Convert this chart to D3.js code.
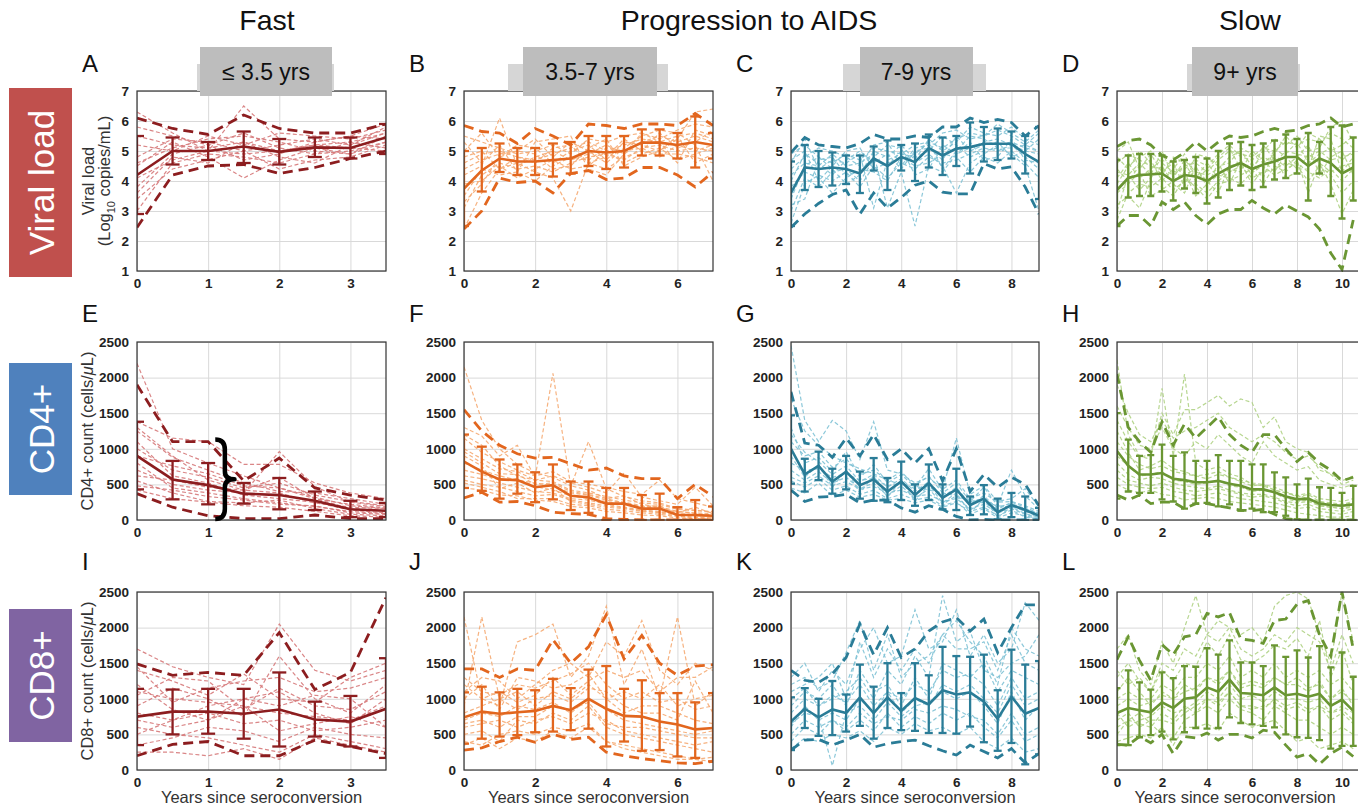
<!DOCTYPE html>
<html>
<head>
<meta charset="utf-8">
<script src="https://cdn.jsdelivr.net/npm/d3@7"></script>
<style>
  body { margin: 0; background: #fff; }
  svg { display: block; }
  text { font-family: "Liberation Sans", Arial, Helvetica, sans-serif; }
</style>
</head>
<body>
<div id="chart"></div>
<script>
// ---- x positions (years since seroconversion) ----
var yearsFast = [0, 0.5, 1, 1.5, 2, 2.5, 3, 3.5];
var yearsMid = [0, 0.5, 1, 1.5, 2, 2.5, 3, 3.5, 4, 4.5, 5, 5.5, 6, 6.5, 7];
var yearsLate = [0, 0.5, 1, 1.5, 2, 2.5, 3, 3.5, 4, 4.5, 5, 5.5, 6, 6.5, 7, 7.5, 8, 8.5, 9];
var yearsSlow = [0, 0.5, 1, 1.5, 2, 2.5, 3, 3.5, 4, 4.5, 5, 5.5, 6, 6.5, 7, 7.5, 8, 8.5, 9, 9.5, 10, 10.5];

var groupLabels = ["\u2264 3.5 yrs", "3.5-7 yrs", "7-9 yrs", "9+ yrs"];
var columnTitles = ["Fast", "Progression to AIDS", "Slow"];
var rowLabels = ["Viral load", "CD4+", "CD8+"];
var panelLetters = ["A", "B", "C", "D", "E", "F", "G", "H", "I", "J", "K", "L"];
var xTicks = [[0, 1, 2, 3], [0, 2, 4, 6], [0, 2, 4, 6, 8], [0, 2, 4, 6, 8, 10]];
var vlTicks = [1, 2, 3, 4, 5, 6, 7];
var cellTicks = [0, 500, 1000, 1500, 2000, 2500];

// ---- viral load (log10 copies/mL) ----
var meanA = [4.2, 5.0, 5.0, 5.15, 4.97, 5.12, 5.1, 5.45];
var sdLoA = [2.9, 4.55, 4.7, 4.6, 4.55, 4.8, 4.75, 4.9];
var sdHiA = [5.5, 5.45, 5.3, 5.65, 5.4, 5.45, 5.45, 5.9];
var maxA = [6.1, 5.75, 5.55, 6.2, 5.75, 5.6, 5.6, 5.9];
var minA = [2.45, 4.2, 4.5, 4.55, 4.25, 4.45, 4.75, 5.0];
var tracesA = [
  [5.5, 5.2, 5.1, 5.3, 5.0, 5.2, 5.3, 5.6],
  [3.0, 4.6, 4.9, 4.8, 4.6, 4.9, 5.0, 5.3],
  [4.8, 5.4, 5.3, 5.0, 5.2, 5.4, 5.2, 5.8],
  [3.8, 4.9, 5.2, 5.6, 5.1, 4.9, 5.3, 5.1],
  [4.5, 5.3, 4.8, 4.1, 4.7, 5.1, 4.9, 5.5],
  [6.3, 5.6, 5.0, 6.5, 5.4, 5.3, 5.5, 5.9],
  [3.4, 4.4, 4.7, 5.0, 4.4, 4.7, 4.8, 5.2],
  [5.2, 5.0, 5.5, 5.2, 5.6, 5.5, 5.4, 5.7],
  [4.1, 4.7, 5.0, 4.9, 5.0, 5.2, 5.1, 5.0],
  [4.6, 5.1, 5.4, 5.5, 5.3, 5.0, 4.9, 5.3],
  [5.8, 5.5, 5.2, 4.7, 4.9, 5.3, 5.5, 5.4],
  [3.6, 4.8, 4.6, 5.3, 4.8, 4.6, 5.2, 5.6]
];

var meanB = [3.75, 4.35, 4.75, 4.65, 4.65, 4.7, 4.75, 5.0, 4.95, 5.0, 5.28, 5.28, 5.2, 5.3, 5.2];
var sdLoB = [2.5, 3.65, 4.3, 4.2, 4.2, 4.15, 4.25, 4.5, 4.4, 4.45, 4.85, 4.85, 4.75, 4.45, 4.75];
var sdHiB = [5.0, 5.1, 5.25, 5.1, 5.1, 5.25, 5.3, 5.5, 5.5, 5.5, 5.72, 5.72, 5.6, 6.15, 5.6];
var maxB = [5.85, 5.65, 5.6, 5.25, 5.75, 5.5, 5.2, 5.9, 5.85, 5.75, 5.9, 5.9, 5.85, 6.25, 5.85];
var minB = [2.4, 3.0, 4.1, 3.95, 4.0, 3.6, 4.25, 4.35, 4.05, 4.1, 4.45, 4.45, 4.2, 3.8, 4.3];
var tracesB = [
  [4.6, 4.9, 5.0, 4.8, 4.7, 4.9, 5.1, 5.3, 5.0, 5.2, 5.4, 5.3, 5.5, 5.6, 5.4],
  [3.1, 4.2, 4.6, 4.4, 4.5, 4.3, 4.6, 4.8, 4.9, 4.7, 5.1, 5.2, 5.0, 5.1, 5.0],
  [5.5, 5.3, 5.1, 4.9, 5.0, 5.2, 4.9, 5.4, 5.3, 5.5, 5.6, 5.4, 5.7, 5.9, 5.8],
  [2.4, 3.6, 4.4, 4.6, 4.3, 4.1, 3.0, 4.6, 4.4, 4.8, 5.0, 4.9, 4.9, 4.8, 4.6],
  [4.2, 4.5, 6.1, 4.5, 4.8, 5.0, 4.7, 4.9, 5.2, 4.9, 5.3, 5.5, 5.3, 5.5, 5.3],
  [5.0, 5.6, 4.8, 5.2, 5.1, 4.6, 5.0, 5.2, 4.7, 5.3, 5.2, 5.0, 5.4, 6.3, 6.4],
  [3.9, 4.0, 4.5, 4.1, 4.4, 4.7, 4.4, 4.5, 5.0, 4.6, 4.9, 5.1, 4.7, 4.9, 5.1],
  [4.4, 4.7, 4.9, 5.0, 5.4, 4.8, 5.3, 5.0, 4.6, 5.1, 5.5, 5.7, 5.6, 5.2, 4.0],
  [3.5, 4.4, 4.2, 4.3, 4.0, 4.5, 4.8, 4.7, 5.1, 5.0, 5.1, 4.8, 5.2, 5.0, 5.2],
  [4.8, 5.0, 4.4, 4.8, 4.6, 5.1, 5.2, 4.6, 4.8, 5.4, 5.0, 5.6, 5.1, 5.3, 5.7],
  [3.3, 3.9, 4.8, 5.0, 4.9, 4.4, 4.5, 5.1, 5.4, 4.5, 4.8, 5.0, 5.5, 4.6, 4.9],
  [5.3, 4.6, 5.2, 4.3, 5.3, 5.4, 5.5, 4.4, 4.2, 4.9, 5.6, 5.3, 4.6, 5.7, 5.5]
];

var meanC = [3.6, 4.45, 4.4, 4.45, 4.4, 4.25, 4.75, 4.5, 4.8, 4.63, 5.1, 4.85, 5.08, 5.13, 5.24, 5.24, 5.24, 4.9, 4.63];
var sdLoC = [2.5, 3.7, 3.8, 3.85, 3.9, 3.6, 4.35, 3.7, 4.35, 4.0, 4.45, 4.2, 4.5, 4.25, 4.65, 4.7, 4.75, 4.25, 3.4];
var sdHiC = [4.65, 5.2, 5.0, 4.95, 4.85, 4.85, 5.15, 5.35, 5.2, 5.25, 5.55, 5.45, 5.5, 5.95, 5.8, 5.75, 5.65, 5.5, 5.8];
var maxC = [4.95, 5.45, 5.2, 5.15, 5.1, 5.25, 5.55, 5.4, 5.4, 5.5, 5.45, 5.8, 5.8, 6.1, 5.95, 6.05, 5.95, 5.5, 5.85];
var minC = [2.45, 2.9, 3.25, 3.55, 3.7, 2.9, 3.6, 3.1, 3.45, 3.86, 4.0, 3.63, 3.57, 3.57, 4.58, 4.4, 4.47, 3.8, 2.9];
var tracesC = [
  [4.9, 5.2, 4.8, 4.6, 4.9, 4.7, 5.1, 5.0, 4.9, 5.2, 5.3, 5.1, 5.4, 5.6, 5.5, 5.7, 5.5, 5.2, 5.6],
  [2.6, 3.9, 4.2, 4.0, 4.3, 3.8, 4.5, 4.1, 4.6, 4.4, 4.8, 4.6, 4.7, 4.9, 5.1, 5.0, 5.2, 4.8, 4.4],
  [4.2, 4.6, 4.5, 4.9, 4.5, 4.6, 4.9, 3.1, 4.3, 2.5, 4.5, 4.3, 4.9, 5.1, 5.3, 5.4, 5.2, 5.0, 4.9],
  [3.4, 4.5, 4.8, 4.4, 3.9, 4.2, 5.0, 4.8, 5.2, 4.7, 5.4, 5.0, 5.3, 5.8, 5.6, 5.5, 5.8, 5.4, 5.2],
  [4.6, 5.4, 4.4, 4.7, 4.6, 4.9, 3.1, 4.7, 4.9, 4.8, 5.0, 5.5, 5.2, 4.8, 5.0, 5.1, 4.9, 4.5, 3.0],
  [3.0, 4.1, 3.8, 4.3, 4.4, 4.0, 4.7, 4.5, 5.0, 4.6, 4.9, 4.5, 3.6, 4.6, 4.9, 5.2, 5.3, 5.1, 5.0],
  [4.4, 4.8, 5.1, 5.0, 4.8, 4.5, 5.2, 5.3, 4.5, 5.1, 5.2, 5.6, 5.7, 5.4, 5.5, 5.9, 5.6, 5.3, 5.7],
  [3.8, 4.3, 4.1, 3.6, 4.1, 4.4, 4.3, 4.0, 4.8, 4.5, 4.6, 4.9, 4.8, 4.3, 4.8, 4.6, 5.0, 4.6, 4.1],
  [4.0, 4.9, 4.6, 4.2, 4.7, 5.0, 4.6, 4.9, 4.4, 5.0, 5.1, 4.7, 5.5, 5.0, 5.2, 5.3, 4.8, 5.0, 5.4],
  [3.2, 3.4, 4.7, 4.8, 4.2, 4.3, 4.8, 5.2, 5.1, 4.2, 4.4, 5.2, 4.9, 5.3, 4.7, 4.8, 5.4, 4.7, 4.6],
  [4.7, 5.0, 4.0, 4.5, 5.0, 5.1, 4.4, 4.6, 4.7, 4.9, 5.3, 4.4, 5.0, 5.5, 5.4, 5.1, 5.1, 5.2, 5.0]
];

var meanD = [3.7, 4.1, 4.2, 4.22, 4.25, 4.0, 4.2, 4.15, 4.0, 4.25, 4.45, 4.6, 4.4, 4.55, 4.65, 4.8, 4.8, 4.5, 4.75, 4.6, 4.25, 4.45];
var sdLoD = [2.5, 3.45, 3.5, 3.5, 3.65, 3.35, 3.75, 3.6, 3.25, 3.45, 3.7, 3.85, 3.7, 3.8, 4.05, 4.1, 4.25, 3.35, 4.25, 3.5, 2.75, 3.35];
var sdHiD = [4.7, 4.85, 4.9, 4.9, 4.85, 4.65, 4.7, 4.8, 4.75, 5.0, 5.25, 5.3, 5.2, 5.25, 5.35, 5.55, 5.4, 5.6, 5.3, 5.8, 5.85, 5.45];
var maxD = [5.15, 5.35, 5.4, 5.2, 4.85, 4.7, 4.95, 5.3, 5.0, 5.3, 5.5, 5.45, 5.5, 5.65, 5.75, 5.65, 5.7, 5.85, 5.9, 6.1, 5.8, 5.9];
var minD = [2.5, 2.85, 2.85, 2.5, 3.3, 3.05, 3.3, 2.85, 2.55, 2.9, 3.05, 3.05, 3.35, 3.1, 2.9, 3.2, 3.0, 2.8, 2.4, 1.6, 1.05, 2.7];
var tracesD = [
  [4.6, 4.9, 4.7, 4.5, 4.4, 4.2, 4.5, 4.6, 4.3, 4.7, 5.0, 4.9, 4.8, 5.1, 5.0, 5.3, 5.2, 5.4, 5.3, 5.6, 5.4, 5.1],
  [2.7, 3.6, 3.9, 3.8, 4.1, 3.7, 4.0, 3.9, 3.6, 4.0, 4.3, 4.5, 4.1, 4.3, 4.4, 4.6, 4.5, 4.0, 4.5, 4.2, 3.6, 4.0],
  [3.9, 4.5, 4.8, 5.0, 4.6, 4.3, 4.4, 4.7, 4.5, 4.9, 5.2, 4.8, 4.7, 5.0, 5.4, 5.2, 5.5, 5.0, 5.1, 5.8, 6.0, 5.3],
  [3.2, 3.5, 3.1, 4.0, 3.8, 3.5, 4.1, 3.8, 3.4, 3.9, 4.0, 4.2, 4.4, 3.9, 4.5, 4.3, 4.7, 3.6, 4.6, 3.9, 2.9, 3.7],
  [4.3, 4.2, 4.6, 4.2, 5.0, 4.1, 4.7, 4.3, 4.2, 4.4, 4.8, 5.0, 4.5, 4.8, 4.6, 5.0, 4.9, 4.8, 5.0, 4.7, 4.8, 4.9],
  [5.0, 5.3, 4.4, 4.9, 4.3, 4.6, 3.8, 4.9, 4.8, 4.5, 4.6, 5.1, 4.9, 4.6, 4.9, 5.5, 5.1, 5.6, 5.4, 5.0, 5.2, 5.5],
  [3.6, 3.9, 4.3, 3.5, 3.7, 4.0, 4.3, 3.5, 3.9, 4.2, 4.1, 3.9, 4.3, 4.5, 4.2, 4.4, 4.6, 4.3, 4.1, 4.4, 4.0, 4.4],
  [4.1, 4.6, 4.1, 4.4, 4.7, 4.5, 4.2, 4.4, 4.0, 3.6, 4.5, 4.6, 3.9, 4.4, 4.8, 4.1, 4.3, 4.9, 4.6, 4.3, 4.5, 4.6],
  [4.4, 4.0, 4.5, 4.7, 4.0, 4.4, 4.9, 4.1, 4.6, 4.1, 4.4, 4.3, 5.0, 4.7, 4.3, 4.9, 5.3, 4.6, 4.9, 5.1, 4.7, 5.0],
  [3.0, 4.2, 3.7, 4.1, 4.5, 3.9, 3.6, 4.5, 3.8, 4.6, 3.9, 4.7, 4.2, 5.2, 4.7, 4.5, 4.8, 5.2, 4.2, 4.8, 5.0, 4.2],
  [4.8, 4.4, 5.0, 4.6, 4.2, 4.8, 4.6, 4.0, 4.4, 4.8, 5.1, 4.4, 4.6, 4.1, 5.1, 4.8, 4.4, 4.4, 5.5, 5.4, 4.3, 4.8]
];

// ---- CD4+ count (cells/uL) ----
var meanE = [900, 570, 490, 370, 350, 270, 150, 130];
var sdLoE = [430, 290, 220, 230, 150, 140, 40, 40];
var sdHiE = [1380, 830, 800, 520, 590, 400, 270, 240];
var maxE = [1900, 1100, 1100, 550, 870, 450, 350, 280];
var minE = [370, 180, 60, 20, 20, 70, 20, 20];
var tracesE = [
  [1380, 1150, 1100, 780, 780, 520, 380, 300],
  [900, 760, 650, 480, 450, 320, 200, 160],
  [420, 300, 250, 200, 180, 120, 60, 40],
  [1100, 620, 520, 350, 300, 250, 140, 100],
  [700, 500, 420, 380, 960, 470, 250, 190],
  [2200, 1000, 800, 620, 450, 300, 160, 120],
  [550, 380, 260, 240, 280, 160, 80, 60],
  [1250, 880, 700, 520, 400, 380, 300, 220],
  [800, 450, 380, 300, 240, 190, 120, 90],
  [620, 560, 460, 420, 380, 240, 180, 160],
  [1000, 700, 600, 450, 520, 350, 260, 200],
  [480, 420, 330, 280, 220, 200, 100, 80],
  [1300, 900, 560, 420, 600, 300, 220, 170]
];

var meanF = [820, 680, 570, 560, 460, 490, 340, 320, 230, 230, 160, 160, 70, 70, 60];
var sdLoF = [450, 410, 300, 370, 250, 290, 140, 100, 0, 0, 0, 0, 0, 0, 0];
var sdHiF = [1200, 1030, 850, 780, 670, 780, 540, 540, 450, 450, 350, 370, 180, 280, 190];
var maxF = [1550, 1250, 1050, 930, 870, 880, 790, 700, 730, 620, 580, 580, 300, 500, 330];
var minF = [310, 390, 250, 260, 200, 110, 90, 80, 20, 10, 0, 0, 0, 0, 0];
var tracesF = [
  [1300, 1180, 900, 1050, 600, 2060, 480, 420, 300, 240, 180, 200, 80, 60, 40],
  [800, 700, 620, 560, 520, 480, 380, 350, 280, 250, 200, 190, 120, 100, 90],
  [2150, 1400, 1000, 780, 660, 600, 480, 1100, 440, 330, 270, 240, 160, 140, 110],
  [450, 420, 350, 340, 280, 260, 190, 170, 120, 100, 70, 60, 30, 20, 10],
  [1000, 860, 720, 680, 560, 620, 520, 460, 380, 660, 320, 270, 220, 460, 200],
  [620, 580, 520, 460, 400, 380, 300, 280, 220, 180, 140, 120, 80, 60, 40],
  [1150, 950, 820, 700, 620, 680, 540, 500, 460, 400, 360, 560, 300, 240, 180],
  [700, 640, 560, 580, 470, 420, 340, 300, 260, 220, 190, 160, 120, 90, 70],
  [900, 760, 440, 520, 380, 450, 260, 220, 180, 160, 120, 110, 90, 70, 50],
  [560, 500, 460, 400, 340, 360, 280, 240, 200, 170, 130, 100, 60, 40, 30],
  [1200, 1050, 760, 620, 560, 540, 420, 380, 330, 280, 240, 220, 150, 130, 120],
  [520, 460, 400, 300, 300, 300, 220, 200, 150, 130, 100, 80, 50, 30, 20],
  [960, 800, 650, 640, 500, 520, 400, 360, 300, 340, 220, 180, 100, 180, 90]
];

var meanG = [1000, 640, 760, 540, 680, 490, 570, 400, 540, 350, 520, 310, 430, 210, 300, 110, 210, 140, 60];
var sdLoG = [510, 400, 560, 370, 430, 300, 270, 250, 280, 200, 280, 150, 140, 70, 80, 10, 40, 0, 0];
var sdHiG = [1470, 860, 960, 720, 900, 680, 870, 590, 820, 500, 780, 500, 720, 330, 490, 300, 380, 330, 170];
var maxG = [1800, 1080, 1050, 880, 1150, 900, 1200, 850, 1000, 800, 1000, 550, 1000, 400, 640, 460, 600, 500, 200];
var minG = [420, 260, 320, 330, 360, 240, 280, 280, 170, 110, 200, 150, 50, 0, 10, 0, 0, 0, 0];
var tracesG = [
  [1700, 1250, 1050, 900, 800, 720, 650, 560, 500, 480, 420, 380, 340, 260, 250, 200, 180, 150, 100],
  [800, 700, 720, 600, 650, 560, 580, 480, 520, 440, 470, 360, 400, 260, 300, 180, 230, 160, 80],
  [2450, 1400, 1100, 1400, 1250, 850, 1380, 700, 650, 520, 600, 430, 560, 300, 380, 250, 260, 200, 120],
  [600, 520, 620, 480, 540, 430, 470, 380, 420, 330, 360, 260, 300, 160, 220, 100, 160, 80, 30],
  [1100, 900, 960, 740, 860, 640, 700, 560, 680, 480, 620, 380, 520, 260, 460, 200, 700, 340, 150],
  [450, 380, 520, 340, 420, 320, 360, 280, 300, 240, 280, 180, 240, 120, 180, 60, 140, 40, 20],
  [1300, 800, 880, 680, 960, 600, 780, 520, 640, 460, 720, 420, 1150, 360, 480, 260, 300, 440, 180],
  [700, 560, 680, 520, 600, 440, 520, 340, 480, 300, 440, 220, 340, 140, 260, 90, 200, 120, 50],
  [1200, 950, 820, 640, 760, 540, 640, 460, 580, 400, 540, 320, 460, 220, 340, 150, 250, 180, 90],
  [900, 600, 780, 460, 700, 380, 620, 320, 560, 260, 500, 240, 380, 100, 300, 40, 180, 90, 40],
  [550, 460, 580, 420, 480, 360, 420, 300, 360, 280, 320, 200, 260, 80, 160, 30, 100, 60, 10]
];

var meanH = [970, 760, 640, 640, 660, 580, 560, 530, 530, 550, 510, 480, 430, 430, 390, 330, 290, 300, 230, 210, 200, 220];
var sdLoH = [300, 400, 380, 380, 290, 260, 160, 230, 240, 190, 220, 130, 160, 110, 110, 60, 10, 0, 0, 0, 0, 0];
var sdHiH = [1500, 1130, 900, 910, 1060, 900, 950, 830, 830, 910, 830, 830, 780, 780, 670, 600, 500, 580, 460, 450, 380, 480];
var maxH = [2050, 1300, 1100, 950, 1380, 1050, 1350, 1150, 1300, 1450, 1200, 1050, 950, 1200, 1200, 1000, 820, 950, 800, 700, 550, 600];
var minH = [350, 280, 350, 230, 250, 250, 160, 230, 230, 200, 170, 140, 130, 150, 80, 20, 0, 0, 0, 0, 0, 0];
var tracesH = [
  [2250, 1200, 900, 850, 1850, 900, 2050, 800, 700, 750, 650, 600, 500, 480, 420, 380, 350, 300, 260, 220, 200, 250],
  [900, 760, 620, 640, 680, 560, 540, 500, 520, 560, 480, 460, 400, 420, 380, 300, 260, 280, 200, 180, 160, 200],
  [1400, 1100, 880, 920, 1500, 1200, 1550, 1550, 1650, 1750, 1600, 1700, 1650, 1300, 1450, 1100, 1000, 950, 700, 650, 550, 620],
  [500, 420, 380, 420, 360, 340, 280, 300, 320, 300, 260, 240, 220, 200, 180, 140, 100, 80, 60, 40, 40, 60],
  [1100, 900, 780, 720, 760, 680, 650, 620, 580, 640, 600, 560, 520, 500, 420, 380, 340, 380, 300, 280, 260, 300],
  [700, 560, 520, 480, 520, 460, 420, 400, 420, 440, 400, 360, 320, 340, 300, 240, 200, 220, 160, 140, 120, 160],
  [1600, 1300, 1050, 1000, 1300, 1000, 900, 1100, 1000, 1200, 1050, 900, 800, 1100, 900, 800, 700, 750, 560, 500, 450, 500],
  [800, 640, 560, 600, 580, 520, 480, 460, 440, 480, 420, 380, 360, 360, 320, 260, 240, 260, 200, 180, 160, 180],
  [1250, 950, 700, 760, 840, 720, 680, 620, 640, 680, 600, 540, 480, 500, 460, 400, 320, 360, 260, 240, 220, 260],
  [600, 500, 460, 440, 460, 400, 380, 340, 360, 380, 340, 300, 280, 260, 240, 200, 160, 180, 120, 100, 80, 120],
  [1900, 1500, 1200, 1100, 1400, 1150, 1250, 1300, 1400, 1500, 1300, 1200, 1100, 1200, 1100, 950, 850, 900, 750, 640, 500, 560]
];

// ---- CD8+ count (cells/uL) ----
var meanI = [750, 820, 820, 790, 850, 710, 680, 860];
var sdLoI = [350, 500, 510, 440, 330, 470, 330, 170];
var sdHiI = [1140, 1130, 1140, 1140, 1370, 960, 1040, 1570];
var maxI = [1490, 1330, 1370, 1330, 1930, 1130, 1370, 2420];
var minI = [200, 360, 400, 200, 200, 420, 330, 230];
var tracesI = [
  [1700, 1450, 1300, 1200, 2050, 1400, 1250, 1400],
  [1100, 1000, 950, 900, 800, 750, 700, 900],
  [350, 450, 600, 550, 400, 600, 500, 450],
  [800, 700, 900, 1000, 1100, 800, 650, 1000],
  [1400, 1250, 1050, 1350, 1000, 950, 1300, 1500],
  [600, 500, 450, 350, 250, 500, 400, 300],
  [900, 1150, 1000, 750, 1600, 1000, 800, 1200],
  [500, 700, 800, 650, 700, 550, 600, 700],
  [1200, 850, 700, 1000, 900, 1050, 1000, 600],
  [250, 250, 200, 300, 150, 450, 350, 250],
  [1050, 1300, 1250, 850, 1150, 900, 850, 1100],
  [700, 600, 700, 900, 550, 650, 750, 600],
  [1450, 950, 1150, 1250, 1300, 1100, 1150, 1300]
];

var meanJ = [740, 820, 790, 810, 830, 900, 840, 1000, 860, 760, 750, 680, 640, 570, 590];
var sdLoJ = [370, 440, 470, 490, 530, 540, 560, 580, 330, 400, 270, 280, 190, 170, 120];
var sdHiJ = [1090, 1170, 1090, 1140, 1120, 1280, 1150, 1410, 1460, 1140, 1260, 1080, 1080, 950, 1080];
var maxJ = [1420, 1420, 1300, 1420, 1400, 1830, 1500, 1730, 2180, 1560, 1890, 1500, 1330, 1460, 1480];
var minJ = [280, 310, 400, 460, 390, 500, 430, 460, 250, 200, 160, 130, 100, 90, 120];
var tracesJ = [
  [2150, 1000, 900, 1800, 1900, 2050, 1300, 1600, 2300, 1200, 1700, 1000, 2150, 900, 1100],
  [700, 800, 750, 900, 850, 950, 800, 1000, 850, 700, 650, 600, 550, 500, 550],
  [1100, 1300, 1250, 1000, 1200, 1400, 1500, 1300, 1800, 1600, 2100, 1400, 1200, 1500, 1400],
  [400, 350, 500, 550, 500, 600, 550, 650, 400, 350, 300, 250, 200, 150, 180],
  [900, 2150, 1000, 1100, 900, 1100, 1000, 1200, 1000, 800, 900, 900, 800, 700, 650],
  [600, 650, 700, 600, 700, 750, 650, 800, 700, 550, 500, 450, 400, 350, 400],
  [1300, 1100, 1050, 1200, 1150, 1250, 1350, 1500, 1200, 1000, 1100, 950, 1000, 850, 900],
  [500, 550, 400, 700, 650, 800, 700, 900, 600, 500, 450, 400, 350, 300, 250],
  [800, 900, 1000, 850, 1000, 1050, 950, 1150, 1100, 900, 800, 800, 700, 1250, 800],
  [350, 450, 300, 450, 400, 550, 450, 600, 400, 300, 250, 200, 150, 150, 120],
  [1000, 1200, 850, 1300, 1250, 1150, 1200, 1350, 1000, 1100, 1000, 1200, 900, 1000, 1050],
  [650, 700, 600, 750, 750, 900, 850, 950, 650, 600, 600, 550, 500, 450, 450],
  [1200, 1000, 1100, 950, 1050, 1300, 1050, 1250, 1400, 1300, 1400, 1100, 1300, 1300, 1450]
];

var meanK = [680, 860, 740, 850, 800, 1020, 800, 1020, 830, 1010, 920, 1120, 1060, 1090, 960, 720, 1030, 790, 870];
var sdLoK = [280, 590, 480, 490, 540, 620, 440, 590, 560, 550, 520, 520, 510, 610, 390, 270, 380, 80, 220];
var sdHiK = [1020, 1150, 1000, 1250, 1060, 1480, 1170, 1500, 1080, 1500, 1330, 1730, 1600, 1590, 1620, 1120, 1690, 1480, 1530];
var maxK = [1400, 1260, 1230, 1350, 1580, 2050, 1620, 2000, 1580, 1700, 1950, 2080, 2140, 1950, 2120, 1650, 2000, 2320, 2320];
var minK = [280, 420, 430, 350, 420, 500, 320, 370, 400, 420, 340, 270, 210, 350, 260, 170, 300, 100, 230];
var tracesK = [
  [1000, 1150, 900, 1000, 1100, 1300, 1000, 1400, 1200, 1600, 1300, 2450, 1800, 1950, 1400, 1300, 1500, 1600, 1900],
  [500, 700, 600, 700, 600, 800, 650, 750, 700, 850, 800, 900, 850, 750, 700, 500, 800, 500, 600],
  [1300, 1500, 1100, 1400, 1200, 1700, 2000, 1500, 1600, 2250, 1700, 1800, 2250, 1600, 1900, 1500, 1700, 2350, 2100],
  [300, 450, 400, 500, 450, 550, 400, 600, 500, 650, 550, 600, 500, 600, 400, 300, 450, 250, 300],
  [800, 1000, 900, 1050, 950, 1200, 900, 1100, 1000, 1200, 1100, 1400, 1300, 1350, 1200, 900, 1300, 1000, 1100],
  [650, 800, 750, 60, 800, 900, 700, 950, 750, 900, 950, 1100, 1000, 1100, 900, 650, 1100, 700, 900],
  [1200, 1300, 1150, 1250, 1650, 2100, 1400, 1900, 1300, 1500, 1600, 1900, 1700, 1700, 1800, 1400, 1900, 1500, 1400],
  [400, 600, 500, 700, 550, 700, 550, 800, 600, 750, 650, 800, 700, 800, 600, 450, 700, 400, 500],
  [900, 1100, 1000, 1200, 900, 1400, 1100, 1200, 900, 1300, 1000, 1500, 1400, 1300, 1500, 1100, 1400, 1300, 1200],
  [600, 900, 700, 800, 700, 1000, 800, 1100, 800, 1000, 900, 1200, 1100, 1200, 1000, 800, 1200, 900, 1000],
  [1100, 1200, 1300, 1500, 1000, 1800, 1300, 1700, 1400, 1700, 1500, 1900, 2100, 1800, 1600, 1200, 2000, 1700, 1600]
];

var meanL = [800, 870, 840, 810, 950, 870, 1000, 1020, 1160, 1100, 1270, 1080, 1070, 1050, 1160, 1050, 1070, 1030, 1070, 900, 990, 830];
var sdLoL = [350, 350, 460, 490, 540, 430, 530, 590, 580, 590, 740, 660, 640, 620, 600, 500, 460, 450, 420, 300, 340, 340];
var sdHiL = [1150, 1400, 1230, 1130, 1370, 1290, 1460, 1450, 1710, 1620, 1820, 1510, 1510, 1460, 1750, 1590, 1680, 1580, 1740, 1440, 1650, 1310];
var maxL = [1550, 1870, 1540, 1260, 1760, 1620, 1870, 1900, 2200, 2150, 2210, 1840, 1820, 1780, 2100, 2120, 2330, 2380, 1900, 1600, 2500, 1700];
var minL = [360, 350, 470, 380, 500, 230, 470, 450, 520, 420, 500, 500, 450, 560, 530, 350, 180, 230, 80, 230, 320, 190];
var tracesL = [
  [1700, 1900, 1400, 1200, 1800, 1500, 2000, 2450, 1900, 2100, 2000, 1900, 2000, 1800, 2300, 2450, 2500, 2400, 1900, 1500, 2500, 1800],
  [600, 700, 650, 600, 800, 700, 900, 800, 1000, 900, 1100, 900, 850, 900, 950, 850, 900, 800, 900, 700, 800, 650],
  [1000, 1100, 1000, 1000, 1200, 1100, 1300, 1300, 1500, 1400, 1600, 1300, 1400, 1300, 1500, 1300, 1400, 1300, 1400, 1200, 1300, 1100],
  [400, 450, 500, 450, 600, 350, 600, 600, 650, 550, 800, 700, 600, 650, 700, 550, 400, 450, 300, 350, 400, 300],
  [1300, 1500, 1250, 1100, 1400, 1250, 1500, 1450, 1800, 1600, 1900, 1550, 1500, 1600, 1750, 1700, 1850, 1600, 2100, 1300, 1700, 1200],
  [800, 600, 700, 750, 900, 800, 850, 950, 1100, 1000, 1200, 1000, 1050, 950, 1100, 1000, 1000, 950, 1000, 800, 900, 800],
  [500, 700, 800, 650, 500, 450, 700, 800, 900, 800, 1000, 850, 800, 700, 900, 800, 700, 700, 600, 500, 600, 500],
  [1100, 1300, 1100, 900, 1100, 1000, 1200, 1100, 1300, 1250, 1400, 1200, 1250, 1200, 1300, 1200, 1300, 1150, 1200, 1000, 1100, 950],
  [900, 1000, 900, 950, 1050, 1000, 1100, 1150, 1300, 1200, 1400, 1150, 1200, 1150, 1300, 1200, 1200, 1100, 1250, 1000, 1150, 900],
  [1400, 1200, 1300, 1100, 1500, 1400, 1700, 1600, 1900, 1800, 2000, 1700, 1600, 1700, 1900, 1800, 2000, 1900, 1800, 1400, 1900, 1500],
  [700, 800, 600, 700, 700, 650, 800, 900, 1000, 950, 1100, 900, 900, 850, 1000, 900, 950, 850, 900, 800, 850, 700]
];

// brace annotation in panel E (years / cells)
var braceE = { x0: 1.1, x1: 1.37, top: 1130, bottom: 15 };

// ---- layout ----
var cols = [
  { left: 137, width: 249, domain: [0, 3.5], years: yearsFast, cap: 14, main: "#8c1d1f", thin: "#d6797a" },
  { left: 464, width: 249, domain: [0, 7], years: yearsMid, cap: 10, main: "#e2661e", thin: "#f5aa72" },
  { left: 791, width: 248, domain: [0, 9], years: yearsLate, cap: 8, main: "#2a7c97", thin: "#80c2d5" },
  { left: 1117, width: 247.5, domain: [0, 11], years: yearsSlow, cap: 7, main: "#6a9633", thin: "#afd184" }
];
var rows = [
  { top: 91, bottom: 271, domain: [1, 7], ticks: vlTicks, letterY: 72 },
  { top: 342, bottom: 520, domain: [0, 2500], ticks: cellTicks, letterY: 322 },
  { top: 592, bottom: 770, domain: [0, 2500], ticks: cellTicks, letterY: 570 }
];
var boxes = [
  { dark: [200, 332], light: [197, 334], tx: 266 },
  { dark: [523, 657], light: [508, 668], tx: 590 },
  { dark: [860, 973], light: [843, 986], tx: 916 },
  { dark: [1192, 1298], light: [1187, 1300], tx: 1245 }
];

var panels = [
  { mean: meanA, lo: sdLoA, hi: sdHiA, max: maxA, min: minA, traces: tracesA },
  { mean: meanB, lo: sdLoB, hi: sdHiB, max: maxB, min: minB, traces: tracesB },
  { mean: meanC, lo: sdLoC, hi: sdHiC, max: maxC, min: minC, traces: tracesC },
  { mean: meanD, lo: sdLoD, hi: sdHiD, max: maxD, min: minD, traces: tracesD },
  { mean: meanE, lo: sdLoE, hi: sdHiE, max: maxE, min: minE, traces: tracesE },
  { mean: meanF, lo: sdLoF, hi: sdHiF, max: maxF, min: minF, traces: tracesF },
  { mean: meanG, lo: sdLoG, hi: sdHiG, max: maxG, min: minG, traces: tracesG },
  { mean: meanH, lo: sdLoH, hi: sdHiH, max: maxH, min: minH, traces: tracesH },
  { mean: meanI, lo: sdLoI, hi: sdHiI, max: maxI, min: minI, traces: tracesI },
  { mean: meanJ, lo: sdLoJ, hi: sdHiJ, max: maxJ, min: minJ, traces: tracesJ },
  { mean: meanK, lo: sdLoK, hi: sdHiK, max: maxK, min: minK, traces: tracesK },
  { mean: meanL, lo: sdLoL, hi: sdHiL, max: maxL, min: minL, traces: tracesL }
];

var svg = d3.select("#chart").append("svg")
    .attr("width", 1358)
    .attr("height", 808);
svg.append("rect").attr("width", 1358).attr("height", 808).attr("fill", "#fff");

var defs = svg.append("defs");
var fmt = d3.format("d");

panels.forEach(function (p, i) {
    var r = Math.floor(i / 4), c = i % 4;
    var col = cols[c], row = rows[r];
    var x = d3.scaleLinear().domain(col.domain).range([col.left, col.left + col.width]);
    var y = d3.scaleLinear().domain(row.domain).range([row.bottom, row.top]);
    var h = row.bottom - row.top;

    defs.append("clipPath").attr("id", "clip" + i)
        .append("rect")
        .attr("x", col.left).attr("y", row.top - 1)
        .attr("width", col.width).attr("height", h + 2);

    var g = svg.append("g");

    // grid
    g.append("g")
        .attr("transform", "translate(0," + row.bottom + ")")
        .call(d3.axisBottom(x).tickValues(xTicks[c]).tickSize(-h).tickFormat(""))
        .call(function (a) { a.select(".domain").remove(); })
        .selectAll("line").attr("stroke", "#d9d9d9").attr("stroke-width", 1);
    g.append("g")
        .attr("transform", "translate(" + col.left + ",0)")
        .call(d3.axisLeft(y).tickValues(row.ticks).tickSize(-col.width).tickFormat(""))
        .call(function (a) { a.select(".domain").remove(); })
        .selectAll("line").attr("stroke", "#d9d9d9").attr("stroke-width", 1);

    // tick labels
    var xa = g.append("g")
        .attr("transform", "translate(0," + row.bottom + ")")
        .call(d3.axisBottom(x).tickValues(xTicks[c]).tickSize(0).tickPadding(7).tickFormat(fmt));
    var ya = g.append("g")
        .attr("transform", "translate(" + col.left + ",0)")
        .call(d3.axisLeft(y).tickValues(row.ticks).tickSize(0).tickPadding(8).tickFormat(fmt));
    [xa, ya].forEach(function (a) {
        a.select(".domain").remove();
        a.selectAll("text")
            .attr("font-family", "'Liberation Sans', Arial, sans-serif")
            .attr("font-size", 13.5).attr("font-weight", "bold").attr("fill", "#222");
    });

    var plot = g.append("g").attr("clip-path", "url(#clip" + i + ")");
    var line = d3.line()
        .defined(function (d) { return d[1] != null; })
        .x(function (d) { return x(d[0]); })
        .y(function (d) { return y(d[1]); });
    var pts = function (arr) { return arr.map(function (v, k) { return [col.years[k], v]; }); };

    // individual patients
    p.traces.forEach(function (t) {
        plot.append("path").attr("d", line(pts(t)))
            .attr("fill", "none").attr("stroke", col.thin)
            .attr("stroke-width", 1.2).attr("stroke-dasharray", "4,2.5")
            .attr("opacity", 0.9);
    });

    // min / max envelope
    [p.max, p.min].forEach(function (arr) {
        plot.append("path").attr("d", line(pts(arr)))
            .attr("fill", "none").attr("stroke", col.main)
            .attr("stroke-width", 2.8).attr("stroke-dasharray", "10,6");
    });

    // error bars
    var eb = plot.selectAll(".eb").data(col.years).enter().append("g");
    eb.append("line")
        .attr("x1", function (d) { return x(d); }).attr("x2", function (d) { return x(d); })
        .attr("y1", function (d, k) { return y(p.lo[k]); })
        .attr("y2", function (d, k) { return y(p.hi[k]); });
    eb.append("line")
        .attr("x1", function (d) { return x(d) - col.cap / 2; }).attr("x2", function (d) { return x(d) + col.cap / 2; })
        .attr("y1", function (d, k) { return y(p.lo[k]); }).attr("y2", function (d, k) { return y(p.lo[k]); });
    eb.append("line")
        .attr("x1", function (d) { return x(d) - col.cap / 2; }).attr("x2", function (d) { return x(d) + col.cap / 2; })
        .attr("y1", function (d, k) { return y(p.hi[k]); }).attr("y2", function (d, k) { return y(p.hi[k]); });
    eb.selectAll("line").attr("stroke", col.main).attr("stroke-width", 2.3);

    // mean
    plot.append("path").attr("d", line(pts(p.mean)))
        .attr("fill", "none").attr("stroke", col.main).attr("stroke-width", 2.6);

    // box
    g.append("rect")
        .attr("x", col.left).attr("y", row.top)
        .attr("width", col.width).attr("height", h)
        .attr("fill", "none").attr("stroke", "#333").attr("stroke-width", 1.2);

    // panel letter
    svg.append("text")
        .attr("x", col.left - 55).attr("y", row.letterY)
        .attr("font-size", 24).attr("fill", "#111")
        .text(panelLetters[i]);

    if (i === 4) {
        var bx0 = x(braceE.x0), bx1 = x(braceE.x1), bt = y(braceE.top), bb = y(braceE.bottom);
        var bm = (bt + bb) / 2, bxm = (bx0 + bx1) / 2;
        svg.append("path")
            .attr("d", "M" + bx0 + "," + bt +
                " Q" + bxm + "," + bt + " " + bxm + "," + (bt + 10) +
                " L" + bxm + "," + (bm - 8) +
                " Q" + bxm + "," + bm + " " + bx1 + "," + bm +
                " Q" + bxm + "," + bm + " " + bxm + "," + (bm + 8) +
                " L" + bxm + "," + (bb - 10) +
                " Q" + bxm + "," + bb + " " + bx0 + "," + bb)
            .attr("fill", "none").attr("stroke", "#000").attr("stroke-width", 4.5)
            .attr("stroke-linejoin", "round");
    }

    if (r === 2) {
        svg.append("text")
            .attr("x", col.left + (x(col.domain[1] > 10 ? 10.5 : col.domain[1]) - col.left) / 2)
            .attr("y", 803)
            .attr("text-anchor", "middle")
            .attr("font-size", 16.5).attr("fill", "#333")
            .text("Years since seroconversion");
    }
});

// y-axis titles (first column)
function vtext(xPos, yPos) {
    return svg.append("text")
        .attr("transform", "translate(" + xPos + "," + yPos + ") rotate(-90)")
        .attr("text-anchor", "middle")
        .attr("font-size", 16.5).attr("fill", "#333");
}
vtext(94, 181).text("Viral load");
var t2 = vtext(110, 181);
t2.append("tspan").text("(Log");
t2.append("tspan").attr("font-size", 11).attr("dy", 5).text("10");
t2.append("tspan").attr("dy", -5).text(" copies/mL)");
[1, 2].forEach(function (r) {
    var t = vtext(93, (rows[r].top + rows[r].bottom) / 2);
    t.append("tspan").text((r === 1 ? "CD4+" : "CD8+") + " count (cells/");
    t.append("tspan").attr("font-style", "italic").text("\u03bc");
    t.append("tspan").text("L)");
});

// group boxes
boxes.forEach(function (b, c) {
    svg.append("rect").attr("x", b.light[0]).attr("y", 64)
        .attr("width", b.light[1] - b.light[0]).attr("height", 27).attr("fill", "#d6d6d6");
    svg.append("rect").attr("x", b.dark[0]).attr("y", 47)
        .attr("width", b.dark[1] - b.dark[0]).attr("height", 49).attr("fill", "#bdbdbd");
    svg.append("text").attr("x", b.tx).attr("y", 80)
        .attr("text-anchor", "middle").attr("font-size", 23).attr("fill", "#111")
        .text(groupLabels[c]);
});

// column titles
[267, 749, 1250].forEach(function (cx, k) {
    svg.append("text").attr("x", cx).attr("y", 30)
        .attr("text-anchor", "middle").attr("font-size", 28.5).attr("fill", "#111")
        .text(columnTitles[k]);
});

// row labels
var rowBoxes = [
  { y0: 88, y1: 277, fill: "#c0504d" },
  { y0: 363, y1: 495, fill: "#4f81bd" },
  { y0: 609, y1: 742, fill: "#8064a2" }
];
rowBoxes.forEach(function (b, r) {
    svg.append("rect").attr("x", 9).attr("y", b.y0)
        .attr("width", 63).attr("height", b.y1 - b.y0).attr("fill", b.fill);
    svg.append("text")
        .attr("transform", "translate(54," + (b.y0 + b.y1) / 2 + ") rotate(-90)")
        .attr("text-anchor", "middle").attr("font-size", 35).attr("fill", "#fff")
        .text(rowLabels[r]);
});
</script>
</body>
</html>
